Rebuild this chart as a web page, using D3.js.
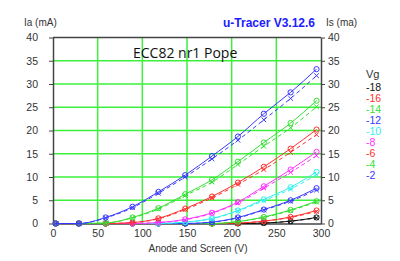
<!DOCTYPE html>
<html>
<head>
<meta charset="utf-8">
<script src="https://cdn.jsdelivr.net/npm/d3@7"></script>
<style>
  body { margin: 0; background: #fff; }
  svg { display: block; }
</style>
</head>
<body>
<svg id="drawing_region"></svg>
<script>
// anode / screen voltage of each measured point
const anodeV = [3, 29, 59, 89, 118, 148, 178, 207, 236, 266, 295];
const gridV = ["-18", "-16", "-14", "-12", "-10", "-8", "-6", "-4", "-2"];
const yTicks = [0, 5, 10, 15, 20, 25, 30, 35, 40];
const xTicks = [0, 50, 100, 150, 200, 250, 300];

// anode current Ia (mA), one row per grid voltage
const ia = [
  [0, 0, 0, 0, 0, 0, 0, 0, 0.1, 0.5, 1.3],
  [0, 0, 0, 0, 0, 0, 0, 0.1, 0.5, 1.4, 2.8],
  [0, 0, 0, 0, 0, 0, 0, 0.4, 1.4, 2.9, 4.8],
  [0, 0, 0, 0, 0, 0, 0.3, 1.3, 3.0, 5.0, 7.6],
  [0, 0, 0, 0, 0, 0.3, 1.1, 2.8, 5.2, 7.8, 11.1],
  [0, 0, 0, 0, 0.2, 0.9, 2.3, 4.6, 8.0, 11.6, 15.4],
  [0, 0, 0, 0.2, 1.1, 3.2, 5.8, 8.8, 12.2, 16.1, 20.2],
  [0, 0, 0.1, 1.3, 3.3, 6.3, 9.4, 13.3, 17.4, 21.6, 26.4],
  [0, 0, 1.3, 3.6, 6.8, 10.4, 14.5, 18.7, 23.6, 28.2, 33.2]
];

// screen current Is (mA)
const is = [
  [0, 0, 0, 0, 0, 0, 0, 0, 0.1, 0.5, 1.2],
  [0, 0, 0, 0, 0, 0, 0, 0.1, 0.5, 1.3, 2.6],
  [0, 0, 0, 0, 0, 0, 0, 0.4, 1.3, 2.8, 4.6],
  [0, 0, 0, 0, 0, 0, 0.3, 1.2, 2.9, 4.8, 7.2],
  [0, 0, 0, 0, 0, 0.3, 1.0, 2.7, 4.9, 7.4, 10.5],
  [0, 0, 0, 0, 0.2, 0.8, 2.2, 4.4, 7.6, 11.0, 14.6],
  [0, 0, 0, 0.2, 1.0, 3.0, 5.5, 8.4, 11.6, 15.3, 19.1],
  [0, 0, 0.1, 1.2, 3.1, 6.0, 8.9, 12.7, 16.6, 20.6, 25.1],
  [0, 0, 1.2, 3.4, 6.5, 10.0, 13.9, 17.9, 22.3, 26.9, 31.8]
];

const W = 400, H = 261;
const margin = {top: 37.5, right: 79, bottom: 37.5, left: 53};

const svg = d3.select('#drawing_region')
  .attr('width', W)
  .attr('height', H)
  .style('font-family', 'Liberation Sans, Arial, sans-serif');

svg.append('rect').attr('width', W).attr('height', H).attr('fill', '#fff');

const x = d3.scaleLinear().domain([0, 300]).range([margin.left, W - margin.right]);
const y = d3.scaleLinear().domain([0, 40]).range([H - margin.bottom, margin.top]);

const color = d3.scaleOrdinal()
  .domain(gridV)
  .range(["#111111", "#ff3030", "#30e030", "#3838ff", "#30f0f0", "#ff30ff", "#ff3030", "#30e030", "#3838ff"]);

// grid
const grid = svg.append('g');
grid.selectAll('.vg').data(xTicks.slice(1, -1)).join('line')
  .attr('x1', d => x(d)).attr('x2', d => x(d))
  .attr('y1', y(0)).attr('y2', y(40))
  .attr('stroke', '#3cf03c').attr('stroke-width', 1.5);
grid.selectAll('.hg').data(yTicks.slice(1, -1)).join('line')
  .attr('x1', x(0)).attr('x2', x(300))
  .attr('y1', d => y(d)).attr('y2', d => y(d))
  .attr('stroke', '#3cf03c').attr('stroke-width', 1.5);

// axes
const axisL = svg.append('g')
  .attr('transform', `translate(${x(0)},0)`)
  .call(d3.axisLeft(y).tickValues(yTicks).tickSizeInner(4).tickSizeOuter(0).tickPadding(11));
const axisR = svg.append('g')
  .attr('transform', `translate(${x(300)},0)`)
  .call(d3.axisRight(y).tickValues(yTicks).tickSizeInner(4).tickSizeOuter(0).tickPadding(3));
const axisB = svg.append('g')
  .attr('transform', `translate(0,${y(0)})`)
  .call(d3.axisBottom(x).tickValues(xTicks).tickSize(0).tickPadding(6.5));

[axisL, axisR, axisB].forEach(a => {
  a.selectAll('path').attr('stroke', '#444').attr('stroke-width', 1.5);
  a.selectAll('line').attr('stroke', '#444');
  a.selectAll('text').attr('fill', '#333').attr('font-size', '10.5px')
    .attr('font-family', 'Liberation Sans, Arial, sans-serif');
});

// top border
svg.append('line')
  .attr('x1', x(0)).attr('x2', x(300))
  .attr('y1', y(40)).attr('y2', y(40))
  .attr('stroke', '#444').attr('stroke-width', 1.5);

// curves
const line = d3.line()
  .x((d, i) => x(anodeV[i]))
  .y(d => y(d))
  .curve(d3.curveMonotoneX);

const curves = svg.append('g');
gridV.forEach((g, k) => {
  const c = color(g);
  curves.append('path')
    .attr('d', line(is[k]))
    .attr('fill', 'none').attr('stroke', c).attr('stroke-width', 1)
    .attr('stroke-dasharray', '4,3');
  curves.append('path')
    .attr('d', line(ia[k]))
    .attr('fill', 'none').attr('stroke', c).attr('stroke-width', 1);

  curves.selectAll(null).data(is[k]).join('path')
    .attr('d', (d, i) => {
      const px = x(anodeV[i]), py = y(d), s = 2.3;
      return `M${px - s},${py - s}L${px + s},${py + s}M${px - s},${py + s}L${px + s},${py - s}`;
    })
    .attr('stroke', c).attr('stroke-width', 1);
  curves.selectAll(null).data(ia[k]).join('circle')
    .attr('cx', (d, i) => x(anodeV[i]))
    .attr('cy', d => y(d))
    .attr('r', 2.6)
    .attr('fill', 'none').attr('stroke', c).attr('stroke-width', 1);
});

// titles
svg.append('text').attr('x', 24).attr('y', 26)
  .attr('font-size', '10px').attr('fill', '#333').text('Ia (mA)');
svg.append('text').attr('x', 326).attr('y', 26)
  .attr('font-size', '10px').attr('fill', '#333').text('Is (ma)');
svg.append('text').attr('x', 269).attr('y', 27)
  .attr('text-anchor', 'middle').attr('font-size', '12px').attr('font-weight', 'bold')
  .attr('fill', '#2020ff').text('u-Tracer V3.12.6');
svg.append('text').attr('x', 133).attr('y', 58)
  .attr('font-size', '14px').attr('fill', '#111')
  .style('font-family', 'Open Sans, sans-serif').text('ECC82 nr1 Pope');
svg.append('text').attr('x', 198).attr('y', 252)
  .attr('text-anchor', 'middle').attr('font-size', '10px').attr('fill', '#333')
  .text('Anode and Screen (V)');

// legend
const legend = svg.append('g').attr('transform', 'translate(366,0)');
legend.append('text').attr('x', 0).attr('y', 78)
  .attr('font-size', '11px').attr('fill', '#333').text('Vg');
legend.selectAll('.lg').data(gridV).join('text')
  .attr('x', 0)
  .attr('y', (d, i) => 91 + i * 11)
  .attr('font-size', '10.5px')
  .attr('fill', d => color(d))
  .text(d => d);
</script>
</body>
</html>
